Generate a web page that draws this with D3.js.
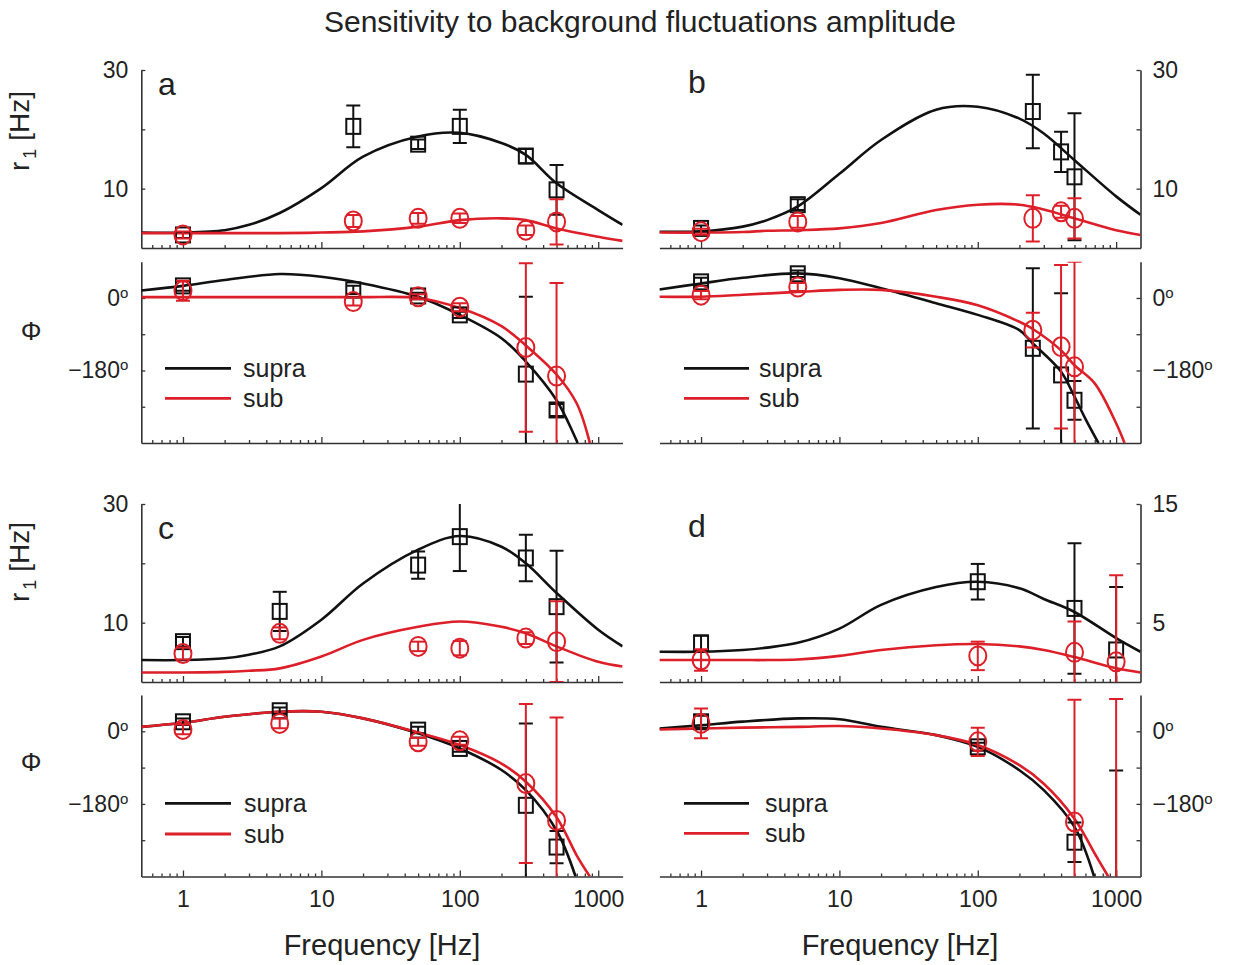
<!DOCTYPE html>
<html>
<head>
<meta charset="utf-8">
<script src="https://cdn.jsdelivr.net/npm/d3@7"></script>
<style>
  body { margin: 0; background: #fff; }
  svg text { font-family: "Liberation Sans", Arial, Helvetica, sans-serif; fill: #222; }
</style>
</head>
<body>
<svg id="fig" width="1240" height="965"></svg>
<script>
// ---------------- data ----------------
// sample frequencies (Hz) of the fitted amplitude curves
const ampFitFreq = [0.5, 1, 2, 3, 5, 10, 20, 50, 100, 200, 300, 500, 1000, 1500];

// fitted amplitude r1 (Hz)
const aAmpSupraFit = [2.6, 2.6, 3.0, 3.9, 5.9, 10.1, 15.4, 18.8, 19.4, 17.7, 15.7, 10.9, 6.4, 3.9];
const aAmpSubFit   = [2.5, 2.5, 2.5, 2.5, 2.5, 2.6, 2.8, 3.6, 4.7, 5.0, 4.7, 3.3, 1.9, 1.2];
const bAmpSupraFit = [2.75, 2.8, 3.6, 4.7, 7.0, 12.5, 18.2, 23.3, 23.8, 21.8, 19.3, 14.8, 8.7, 5.6];
const bAmpSubFit   = [2.6, 2.6, 2.7, 2.9, 3.0, 3.3, 4.2, 6.4, 7.3, 7.3, 6.5, 5.0, 3.0, 2.2];
const cAmpSupraFit = [3.7, 3.7, 4.0, 4.6, 6.0, 10.5, 16.6, 22.3, 24.6, 22.8, 20.0, 15.0, 8.8, 6.0];
const cAmpSubFit   = [1.6, 1.6, 1.7, 1.9, 2.3, 4.3, 7.1, 9.3, 10.2, 9.3, 8.2, 6.0, 3.4, 2.6];
const dAmpSupraFit = [2.55, 2.55, 2.7, 2.9, 3.3, 4.5, 6.5, 8.0, 8.45, 7.9, 7.0, 5.9, 3.7, 2.55];
const dAmpSubFit   = [1.85, 1.85, 1.85, 1.85, 1.9, 2.2, 2.7, 3.1, 3.2, 3.0, 2.7, 2.1, 1.15, 0.8];

// fitted phase (deg); each curve runs until it leaves the axes at -360
const aPhSupraFitFreq = [0.5, 1, 2, 5, 10, 20, 50, 100, 200, 300, 500, 710];
const aPhSupraFit     = [18.7, 30, 44.5, 59.4, 52.7, 36, 3, -42, -100, -158, -254, -360];
const aPhSubFitFreq   = [0.5, 1, 2, 5, 10, 20, 50, 100, 200, 300, 500, 700, 870];
const aPhSubFit       = [2, 2, 2, 2, 2, 2, 0, -25, -70, -118, -190, -262, -360];
const bPhSupraFitFreq = [0.5, 1, 2, 5, 10, 20, 50, 100, 200, 250, 400, 500, 600, 745];
const bPhSupraFit     = [21, 36, 50, 61, 49, 24, -13, -42, -80, -113, -183, -245, -300, -360];
const bPhSubFitFreq   = [0.5, 1, 2, 5, 10, 20, 50, 100, 200, 250, 400, 500, 700, 1000, 1150];
const bPhSubFit       = [3, 3, 8, 15, 20, 20, 3, -18, -59, -77, -130, -167, -212, -311, -360];
const cPhSupraFitFreq = [0.5, 1, 2, 5, 10, 20, 50, 100, 200, 300, 500, 686];
const cPhSupraFit     = [11, 21, 36, 48.5, 48.5, 32, -5, -42.5, -96, -146, -246, -360];
const cPhSubFitFreq   = [0.5, 1, 2, 5, 10, 20, 50, 100, 200, 300, 500, 700, 870];
const cPhSubFit       = [11, 21, 36, 48.5, 48.5, 32, -3, -34, -80, -125, -213, -308, -360];
const dPhSupraFitFreq = [0.5, 1, 2, 5, 10, 20, 50, 100, 200, 300, 500, 693];
const dPhSupraFit     = [7, 15, 24, 32, 30, 11, -9.5, -38.5, -96.5, -146, -237, -360];
const dPhSubFitFreq   = [0.5, 1, 2, 5, 10, 20, 50, 100, 200, 300, 500, 700, 877];
const dPhSubFit       = [4.6, 7, 9, 11, 13, 7, -9.5, -34, -84, -130, -216.6, -303, -360];

// measured points: stimulus frequencies, mean and error
const aFreq = [1, 17, 50, 100, 300, 500];
const aAmpSupra = [2.2, 20.5, 17.5, 20.5, 15.5, 9.8];
const aAmpSupraErr = [0.5, 3.5, 0.8, 2.8, 1.2, 4.2];
const aAmpSub = [2.2, 4.55, 5.0, 5.0, 3.0, 4.4];
const aAmpSubErr = [0.6, 1.0, 0.9, 0.8, 0.8, 3.8];
const aPhSupra = [30, 20, 5, -42, -189, -278];
const aPhSupraErr = [12, 10, 8, 8, 192, 15];
const aPhSub = [18, -9, 3, -23, -123, -194];
const aPhSubErr = [25, 10, 6, 10, 209, 231];

const bFreq = [1, 5, 250, 400, 500];
const bAmpSupra = [3.3, 7.3, 23.0, 16.2, 12.0];
const bAmpSupraErr = [0.5, 0.9, 6.2, 3.4, 10.7];
const bAmpSub = [2.75, 4.4, 5.0, 6.1, 5.0];
const bAmpSubErr = [0.5, 1.0, 3.9, 1.0, 3.4];
const bPhSupra = [40, 60, -125, -191, -254];
const bPhSupraErr = [10, 8, 199, 203, 48];
const bPhSub = [7, 27, -80, -121, -171];
const bPhSubErr = [10, 10, 43, 203, 261];

const cFreq = [1, 5, 50, 100, 300, 500];
const cAmpSupra = [6.8, 11.9, 19.7, 24.5, 20.9, 12.7];
const cAmpSupraErr = [0.8, 3.3, 2.3, 5.8, 3.9, 9.4];
const cAmpSub = [4.8, 8.2, 6.0, 5.7, 7.4, 6.8];
const cAmpSubErr = [1.0, 1.0, 0.8, 1.2, 1.0, 6.8];
const cPhSupra = [23.6, 51, 3, -42.5, -183.5, -287];
const cPhSupraErr = [8, 8, 8, 8, 203, 40];
const cPhSub = [4.6, 19.6, -26, -23.6, -129.5, -221];
const cPhSubErr = [12, 12, 10, 10, 197, 255];

const dFreq = [1, 100, 500, 1000];
const dAmpSupra = [3.3, 8.45, 6.2, 2.7];
const dAmpSupraErr = [0.6, 1.5, 5.5, 5.3];
const dAmpSub = [1.85, 2.2, 2.5, 1.7];
const dAmpSubErr = [0.9, 1.2, 2.6, 7.3];
const dPhSupra = [23.6, -38.5, -275, -420];
const dPhSupraErr = [15, 10, 49, 323];
const dPhSub = [19.6, -26, -225, -420];
const dPhSubErr = [37, 35, 303, 500];

// axis ticks and labels
const freqTicks = [1, 10, 100, 1000];
const freqMinorTicks = [0.6, 0.7, 0.8, 0.9, 2, 3, 4, 5, 6, 7, 8, 9,
  20, 30, 40, 50, 60, 70, 80, 90, 200, 300, 400, 500, 600, 700, 800, 900];
const amp30Ticks = [10, 20, 30];
const amp30Labels = [10, 30];
const amp15Ticks = [5, 10, 15];
const amp15Labels = [5, 15];
const phaseTicks = [0, -90, -180, -270];
const phaseLabels = [0, -180];
const seriesNames = ["supra", "sub"];

// ---------------- layout ----------------
const BLACK = "#111", RED = "#dc1f28", AXIS = "#333";
const freqDomain = [0.5, 1500];
const colX = [[141.3, 622.6], [659.4, 1140.5]];
const ampY = [[248, 70], [682, 504]];
const phY = [[443, 261.7], [876.5, 695]];

const svg = d3.select("#fig");
const defs = svg.append("defs");

function fitSeries(freq, values) { return d3.zip(freq, values); }
function pointSeries(freq, values, err) {
  return freq.map((f, i) => ({ f: f, v: values[i], e: err[i] }));
}

const panels = [
  { id: "a", col: 0, row: 0, side: "left", ampMax: 30, ampTicks: amp30Ticks, ampLabels: amp30Labels,
    ampFits: [fitSeries(ampFitFreq, aAmpSupraFit), fitSeries(ampFitFreq, aAmpSubFit)],
    phFits: [fitSeries(aPhSupraFitFreq, aPhSupraFit), fitSeries(aPhSubFitFreq, aPhSubFit)],
    ampPts: [pointSeries(aFreq, aAmpSupra, aAmpSupraErr), pointSeries(aFreq, aAmpSub, aAmpSubErr)],
    phPts: [pointSeries(aFreq, aPhSupra, aPhSupraErr), pointSeries(aFreq, aPhSub, aPhSubErr)],
    letter: [158, 95], legend: { x0: 165, x1: 231, tx: 243, y: [368.3, 398.3] } },
  { id: "b", col: 1, row: 0, side: "right", ampMax: 30, ampTicks: amp30Ticks, ampLabels: amp30Labels,
    ampFits: [fitSeries(ampFitFreq, bAmpSupraFit), fitSeries(ampFitFreq, bAmpSubFit)],
    phFits: [fitSeries(bPhSupraFitFreq, bPhSupraFit), fitSeries(bPhSubFitFreq, bPhSubFit)],
    ampPts: [pointSeries(bFreq, bAmpSupra, bAmpSupraErr), pointSeries(bFreq, bAmpSub, bAmpSubErr)],
    phPts: [pointSeries(bFreq, bPhSupra, bPhSupraErr), pointSeries(bFreq, bPhSub, bPhSubErr)],
    letter: [688, 93], legend: { x0: 684, x1: 749, tx: 759, y: [368.3, 398.3] } },
  { id: "c", col: 0, row: 1, side: "left", ampMax: 30, ampTicks: amp30Ticks, ampLabels: amp30Labels,
    ampFits: [fitSeries(ampFitFreq, cAmpSupraFit), fitSeries(ampFitFreq, cAmpSubFit)],
    phFits: [fitSeries(cPhSupraFitFreq, cPhSupraFit), fitSeries(cPhSubFitFreq, cPhSubFit)],
    ampPts: [pointSeries(cFreq, cAmpSupra, cAmpSupraErr), pointSeries(cFreq, cAmpSub, cAmpSubErr)],
    phPts: [pointSeries(cFreq, cPhSupra, cPhSupraErr), pointSeries(cFreq, cPhSub, cPhSubErr)],
    letter: [158, 539], legend: { x0: 165, x1: 231, tx: 244, y: [803.3, 834] } },
  { id: "d", col: 1, row: 1, side: "right", ampMax: 15, ampTicks: amp15Ticks, ampLabels: amp15Labels,
    ampFits: [fitSeries(ampFitFreq, dAmpSupraFit), fitSeries(ampFitFreq, dAmpSubFit)],
    phFits: [fitSeries(dPhSupraFitFreq, dPhSupraFit), fitSeries(dPhSubFitFreq, dPhSubFit)],
    ampPts: [pointSeries(dFreq, dAmpSupra, dAmpSupraErr), pointSeries(dFreq, dAmpSub, dAmpSubErr)],
    phPts: [pointSeries(dFreq, dPhSupra, dPhSupraErr), pointSeries(dFreq, dPhSub, dPhSubErr)],
    letter: [688, 537], legend: { x0: 684, x1: 749, tx: 765, y: [803.3, 833.3] } }
];

const colors = [BLACK, RED];
const markers = ["square", "circle"];

function styleAxis(g, fontSize) {
  g.attr("font-family", null).attr("font-size", null);
  g.select(".domain").attr("stroke", AXIS).attr("stroke-width", 1.6);
  g.selectAll(".tick line").attr("stroke", AXIS).attr("stroke-width", 1.3);
  g.selectAll(".tick text").attr("fill", "#222").style("font-size", fontSize + "px");
}

function drawAxes(g, x, y, side, yTicks, yLabels, yFmt, showFreqLabels) {
  // log frequency axis, ticks pointing into the plot
  const ax = g.append("g").attr("transform", `translate(0,${y.range()[0]})`);
  ax.call(d3.axisBottom(x).tickValues(freqTicks).tickSizeInner(-6).tickSizeOuter(0)
    .tickPadding(14).tickFormat(d => showFreqLabels ? d3.format("d")(d) : ""));
  styleAxis(ax, 23);
  const axm = g.append("g").attr("transform", `translate(0,${y.range()[0]})`);
  axm.call(d3.axisBottom(x).tickValues(freqMinorTicks).tickSizeInner(-3).tickSizeOuter(0).tickFormat(""));
  styleAxis(axm, 23);
  axm.select(".domain").remove();

  const left = side === "left";
  const xPos = left ? x.range()[0] : x.range()[1];
  const yAxis = (left ? d3.axisLeft(y) : d3.axisRight(y))
    .tickValues(yTicks).tickSizeInner(-4).tickSizeOuter(0)
    .tickPadding(left ? 13 : 12).tickFormat("");
  const ay = g.append("g").attr("transform", `translate(${xPos},0)`).call(yAxis);
  styleAxis(ay, 23);
  ay.selectAll(".tick text").each(function (d) {
    if (!yLabels.includes(d)) return;
    yFmt(d3.select(this), d);
  });
}

function numberLabel(t, d) { t.text(d); }
function degreeLabel(t, d) {
  t.text(null);
  t.append("tspan").text(d === 0 ? "0" : "\u2212" + Math.abs(d));
  t.append("tspan").text("o").style("font-size", "15px").attr("dy", "-0.55em");
}

function drawMarks(plot, x, y, fits, pts) {
  const line = d3.line().x(d => x(d[0])).y(d => y(d[1])).curve(d3.curveCatmullRom.alpha(0.5));
  fits.forEach((f, i) => {
    plot.append("path").datum(f).attr("d", line)
      .attr("fill", "none").attr("stroke", colors[i]).attr("stroke-width", 2.6)
      .attr("stroke-linejoin", "round");
  });
  pts.forEach((s, i) => {
    const g = plot.append("g").attr("stroke", colors[i]).attr("fill", "none").attr("stroke-width", 2);
    const p = g.selectAll("g").data(s).join("g");
    p.append("line").attr("x1", d => x(d.f)).attr("x2", d => x(d.f))
      .attr("y1", d => y(d.v - d.e)).attr("y2", d => y(d.v + d.e));
    [-1, 1].forEach(sgn => {
      p.append("line").attr("x1", d => x(d.f) - 7).attr("x2", d => x(d.f) + 7)
        .attr("y1", d => y(d.v + sgn * d.e)).attr("y2", d => y(d.v + sgn * d.e));
    });
    if (markers[i] === "square") {
      p.append("rect").attr("x", d => x(d.f) - 7).attr("y", d => y(d.v) - 7.5)
        .attr("width", 14).attr("height", 15);
    } else {
      p.append("ellipse").attr("cx", d => x(d.f)).attr("cy", d => y(d.v))
        .attr("rx", 8.5).attr("ry", 9.5);
    }
  });
}

function clipFor(id, x, y) {
  defs.append("clipPath").attr("id", id).append("rect")
    .attr("x", x.range()[0]).attr("y", y.range()[1])
    .attr("width", x.range()[1] - x.range()[0])
    .attr("height", y.range()[0] - y.range()[1]);
  return `url(#${id})`;
}

panels.forEach(p => {
  const x = d3.scaleLog().domain(freqDomain).range(colX[p.col]);

  // amplitude panel
  const ya = d3.scaleLinear().domain([0, p.ampMax]).range(ampY[p.row]);
  const ga = svg.append("g").attr("class", "amp-" + p.id);
  drawAxes(ga, x, ya, p.side, p.ampTicks, p.ampLabels, numberLabel, false);
  drawMarks(ga.append("g").attr("clip-path", clipFor("clipA" + p.id, x, ya)), x, ya, p.ampFits, p.ampPts);
  ga.append("text").attr("x", p.letter[0]).attr("y", p.letter[1])
    .style("font-size", "32px").text(p.id);

  // phase panel
  const yp = d3.scaleLinear().domain([-360, 90]).range(phY[p.row]);
  const gp = svg.append("g").attr("class", "phase-" + p.id);
  drawAxes(gp, x, yp, p.side, phaseTicks, phaseLabels, degreeLabel, p.row === 1);
  drawMarks(gp.append("g").attr("clip-path", clipFor("clipP" + p.id, x, yp)), x, yp, p.phFits, p.phPts);

  // legend
  const lg = gp.append("g");
  seriesNames.forEach((name, i) => {
    lg.append("line").attr("x1", p.legend.x0).attr("x2", p.legend.x1)
      .attr("y1", p.legend.y[i]).attr("y2", p.legend.y[i])
      .attr("stroke", colors[i]).attr("stroke-width", 2.8);
    lg.append("text").attr("x", p.legend.tx).attr("y", p.legend.y[i]).attr("dy", "0.35em")
      .style("font-size", "25px").text(name);
  });
});

// y-axis titles
[131, 562].forEach(cy => {
  const t = svg.append("text").attr("transform", `translate(29,${cy}) rotate(-90)`)
    .attr("text-anchor", "middle").style("font-size", "28px");
  t.append("tspan").text("r");
  t.append("tspan").text("1").style("font-size", "18px").attr("dx", 3).attr("dy", 7);
  t.append("tspan").text(" [Hz]").attr("dy", -7);
});
[331, 762].forEach(cy => {
  svg.append("text").attr("x", 31).attr("y", cy).attr("dy", "0.35em")
    .attr("text-anchor", "middle").style("font-size", "26px").text("\u03A6");
});

// frequency axis titles
colX.forEach(r => {
  svg.append("text").attr("x", (r[0] + r[1]) / 2).attr("y", 955)
    .attr("text-anchor", "middle").style("font-size", "29px").text("Frequency [Hz]");
});

// figure title
svg.append("text").attr("x", 640).attr("y", 32).attr("text-anchor", "middle")
  .style("font-size", "30px").text("Sensitivity to background fluctuations amplitude");
</script>
</body>
</html>
